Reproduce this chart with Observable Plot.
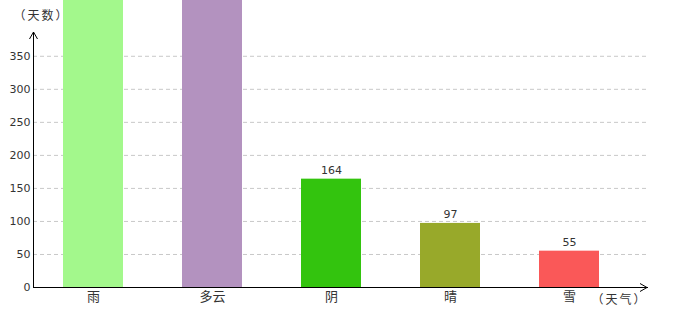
<!DOCTYPE html>
<html><head><meta charset="utf-8">
<script src="https://cdn.jsdelivr.net/npm/d3@7"></script>
<script src="https://cdn.jsdelivr.net/npm/@observablehq/plot@0.6"></script>
<style>body{margin:0;background:#fff;} #chart{width:680px;height:320px;}</style>
</head><body><div id="chart"></div>
<script>
const categories = ["雨", "多云", "阴", "晴", "雪"];
const values = [460, 440, 164, 97, 55];
const colors = ["#a3f88c", "#b392bf", "#33c40e", "#98a92a", "#fa5858"];
const yTicks = [0, 50, 100, 150, 200, 250, 300, 350];
const yTitle = "（天数）";
const xTitle = "（天气）";

const yMax = 386;
const data = categories.map((c, i) => ({c, v: values[i]}));
const mL = 33, mT = 32, mB = 33, mR = 32, W = 680, H = 320;

const plot = Plot.plot({
  width: W, height: H,
  marginTop: mT, marginBottom: mB, marginLeft: mL, marginRight: mR,
  style: {fontFamily: "'DejaVu Sans', sans-serif", fontSize: "11px", color: "#333", background: "#fff"},
  x: {domain: categories, range: [32.5, 628.5], paddingInner: 0.5, paddingOuter: 0.25},
  y: {domain: [0, yMax]},
  color: {domain: categories, range: colors},
  marks: [
    Plot.ruleY(yTicks.slice(1), {stroke: "#c8c8c8", strokeDasharray: "4,3", strokeWidth: 1}),
    Plot.barY(data, {x: "c", y: "v", fill: "c"}),
    Plot.text(data.filter(d => d.v < yMax), {x: "c", y: "v", text: d => String(d.v), dy: -9, fill: "#333", fontSize: 11}),
    Plot.axisY({ticks: yTicks, tickSize: 0, tickPadding: 3, label: null, fill: "#333", fontSize: 11}),
    Plot.axisX({tickSize: 0, tickPadding: 4, label: null, fill: "#333", fontSize: 13, fontFamily: "'Noto Sans CJK SC', sans-serif"}),
    Plot.ruleY([0], {stroke: "#000", strokeWidth: 1}),
    Plot.text([yTitle], {frameAnchor: "top-left", textAnchor: "start", lineAnchor: "middle", dx: -20, dy: -16, fontSize: 12, fill: "#333", fontFamily: "'Noto Sans CJK SC', sans-serif", className: "ttl"}),
    Plot.text([xTitle], {frameAnchor: "bottom-right", textAnchor: "start", lineAnchor: "middle", dx: -57, dy: 13, fontSize: 12, fill: "#333", fontFamily: "'Noto Sans CJK SC', sans-serif", className: "ttl"})
  ]
});

const svg = d3.select(plot);
svg.selectAll(".ttl text").style("letter-spacing", "2px");
// axis lines with arrow heads, placed from the scales
const y = plot.scale("y");
const y0 = y.apply(0);
const xLeft = mL + 0.5, yTop = mT, xRight = W - mR - 1;
svg.append("path").attr("d", `M${xLeft},${y0}V${yTop}`).attr("stroke", "#000").attr("fill", "none");
svg.append("path").attr("d", `M${xLeft - 4},${yTop + 7}L${xLeft},${yTop}L${xLeft + 4},${yTop + 7}`).attr("stroke", "#000").attr("fill", "none");
svg.append("path").attr("d", `M${xRight - 7},${Math.round(y0) - 3.5}L${xRight},${Math.round(y0) + 0.5}L${xRight - 7},${Math.round(y0) + 4.5}`).attr("stroke", "#000").attr("fill", "none");

document.getElementById("chart").append(plot);
</script>
</body></html>
